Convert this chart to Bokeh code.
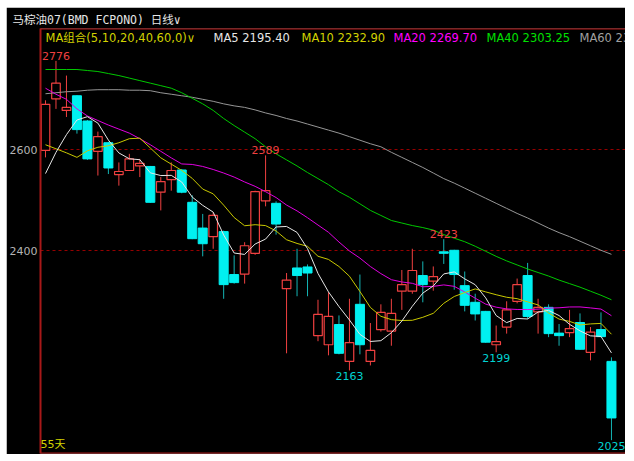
import pandas as pd
from bokeh.plotting import figure
from bokeh.models import ColumnDataSource, Range1d, FixedTicker, Label, Span, Title, Spacer
from bokeh.layouts import column, row
from bokeh.core.properties import value
from bokeh.embed import file_html
from bokeh.resources import INLINE

# ---------------- data ----------------
opens = [2599, 2701, 2678, 2707, 2657, 2597, 2614, 2551, 2559, 2568,
         2567, 2516, 2541, 2560, 2496, 2445, 2428, 2438, 2353, 2354,
         2395, 2499, 2494, 2325, 2366, 2368, 2232, 2214, 2254, 2181,
         2294, 2181, 2244, 2241, 2320, 2320, 2351, 2340, 2398, 2401,
         2331, 2298, 2280, 2214, 2249, 2300, 2351, 2279, 2288, 2237,
         2238, 2258, 2199, 2244, 2181]
highs = [2698, 2776, 2747, 2708, 2659, 2636, 2616, 2575, 2592, 2582,
         2568, 2546, 2575, 2562, 2510, 2473, 2476, 2440, 2391, 2417,
         2519, 2589, 2498, 2356, 2404, 2373, 2303, 2318, 2272, 2305,
         2353, 2257, 2294, 2305, 2362, 2404, 2379, 2369, 2423, 2402,
         2359, 2315, 2281, 2252, 2300, 2345, 2376, 2305, 2294, 2255,
         2283, 2276, 2249, 2278, 2189]
lows = [2585, 2681, 2665, 2632, 2580, 2549, 2552, 2529, 2558, 2546,
        2495, 2480, 2519, 2514, 2423, 2389, 2404, 2305, 2335, 2335,
        2392, 2488, 2432, 2197, 2310, 2310, 2221, 2193, 2195, 2163,
        2195, 2173, 2240, 2212, 2283, 2315, 2298, 2321, 2374, 2323,
        2280, 2262, 2218, 2199, 2236, 2296, 2265, 2236, 2229, 2212,
        2229, 2204, 2183, 2229, 2025]
closes = [2690, 2732, 2684, 2640, 2582, 2626, 2564, 2557, 2582, 2573,
          2496, 2537, 2559, 2516, 2424, 2414, 2470, 2333, 2337, 2410,
          2517, 2519, 2453, 2342, 2351, 2356, 2274, 2270, 2197, 2218,
          2214, 2203, 2278, 2276, 2333, 2361, 2333, 2349, 2395, 2353,
          2292, 2275, 2219, 2220, 2283, 2333, 2270, 2288, 2236, 2232,
          2246, 2205, 2239, 2230, 2069]

# moving-average values before enough visible history exists
ma5_head = [2553, 2595, 2630, 2659]
ma10_head = [2610, 2602, 2594, 2585, 2598, 2605, 2608, 2614, 2622]
ma20_head = [2722, 2710, 2700, 2681, 2667, 2658, 2649, 2641, 2633, 2622,
             2610, 2597, 2584, 2572, 2571, 2567, 2561, 2554, 2546]
ma40 = [2759, 2759, 2759, 2759, 2757, 2755, 2751, 2747, 2742, 2737,
        2732, 2727, 2722, 2713, 2702, 2691, 2678, 2662, 2648, 2635,
        2622, 2606, 2592, 2580, 2568, 2555, 2543, 2531, 2517, 2506,
        2493, 2480, 2470, 2460, 2455, 2450, 2446, 2441, 2432, 2425,
        2418, 2409, 2399, 2389, 2380, 2372, 2364, 2357, 2350, 2342,
        2335, 2328, 2320, 2312, 2303]
ma60 = [2711, 2713, 2715, 2716, 2718, 2719, 2719, 2719, 2718, 2718,
        2717, 2713, 2710, 2707, 2704, 2700, 2696, 2691, 2687, 2684,
        2679, 2673, 2668, 2662, 2657, 2651, 2645, 2639, 2633, 2626,
        2619, 2612, 2606, 2595, 2585, 2575, 2565, 2554, 2543, 2534,
        2524, 2514, 2504, 2494, 2484, 2474, 2465, 2455, 2445, 2436,
        2428, 2419, 2410, 2401, 2393]

y_ticks = [2400, 2600]
mark_high_idx = [1, 21, 38]
mark_low_idx = [29, 43, 54]

title_text = "马棕油07(BMD FCPONO)   日线∨"
ma_group_text = "MA组合(5,10,20,40,60,0)∨"
ma_labels = ["MA5 2195.40", "MA10 2232.90", "MA20 2269.70", "MA40 2303.25", "MA60 2393.10"]
days_text = "55天"

# ---------------- styles ----------------
UP = "#f04040"
DN = "#00f0f0"
DN_WICK = "#14b4b4"
C5, C10, C20, C40, C60 = "#e6e6e6", "#c8c800", "#e000e0", "#00c800", "#969696"
T10, T20, T40, T60 = "#d2d200", "#ff00ff", "#00e000", "#a0a0a0"
FONT = "DejaVu Sans"
FONT_CJK = "DejaVu Sans, Noto Sans CJK SC"
FRAME_H = 425
Y0, Y1 = 1998.6, 2840.2

n = len(closes)
idx = list(range(n))
s = pd.Series(closes, dtype=float)
ma5 = s.rolling(5).mean().tolist()
ma10 = s.rolling(10).mean().tolist()
ma20 = s.rolling(20).mean().tolist()
ma5[:len(ma5_head)] = ma5_head
ma10[:len(ma10_head)] = ma10_head
ma20[:len(ma20_head)] = ma20_head

up = [c >= o for o, c in zip(opens, closes)]
src = ColumnDataSource(dict(
    i=idx, h=highs, l=lows,
    wick=[UP if u else DN_WICK for u in up],
))
up_src = ColumnDataSource(dict(
    i=[i for i in idx if up[i]],
    top=[max(opens[i], closes[i]) for i in idx if up[i]],
    bot=[min(opens[i], closes[i]) for i in idx if up[i]],
))
dn_src = ColumnDataSource(dict(
    i=[i for i in idx if not up[i]],
    top=[max(opens[i], closes[i]) for i in idx if not up[i]],
    bot=[min(opens[i], closes[i]) for i in idx if not up[i]],
))

p = figure(frame_width=585, frame_height=FRAME_H,
           x_range=Range1d(-0.477, 55.34), y_range=Range1d(Y0, Y1),
           output_backend="svg", toolbar_location=None, x_axis_location=None,
           min_border_left=33, min_border_right=0, min_border_top=21, min_border_bottom=1,
           background_fill_color="black", border_fill_color="black", outline_line_color=None)
p.title = Title(text=title_text, text_color="#e6e6e6",
                text_font="DejaVu Sans Mono, Noto Sans CJK SC", text_font_size="11.5px",
                text_font_style="normal", align="left", offset=-28, standoff=3)
p.xgrid.visible = False
p.ygrid.ticker = FixedTicker(ticks=y_ticks)
p.ygrid.grid_line_color = "#960000"
p.ygrid.grid_line_dash = "3 3"
p.ygrid.grid_line_width = 1
ax = p.yaxis[0]
ax.ticker = FixedTicker(ticks=y_ticks)
ax.axis_line_color = "#a81818"
ax.axis_line_width = 2
ax.major_tick_line_color = None
ax.minor_tick_line_color = None
ax.major_tick_out = 0
ax.major_tick_in = 0
ax.major_label_standoff = 3
ax.major_label_text_color = "#b4b4b4"
ax.major_label_text_font = FONT
ax.major_label_text_font_size = "11px"

p.add_layout(Span(location=Y0, dimension="width", line_color="#a81818", line_width=2))
p.add_layout(Span(location=Y1, dimension="width", line_color="#b41414", line_width=2))

p.segment(x0="i", y0="l", x1="i", y1="h", line_color="wick", line_width=1, source=src)
p.vbar(x="i", width=0.82, top="top", bottom="bot", fill_color="black",
       line_color=UP, line_width=1.2, source=up_src)
p.vbar(x="i", width=0.86, top="top", bottom="bot", fill_color=DN,
       line_color=DN, line_width=1, source=dn_src)

for vals, col in [(ma60, C60), (ma40, C40), (ma20, C20), (ma10, C10), (ma5, C5)]:
    p.line(idx, vals, line_color=col, line_width=1)

p.text(x=mark_high_idx, y=[highs[i] for i in mark_high_idx],
       text=[str(highs[i]) for i in mark_high_idx],
       text_color=UP, text_font=value(FONT), text_font_size="11px",
       text_align="center", text_baseline="bottom", y_offset=-1)
p.text(x=mark_low_idx, y=[lows[i] for i in mark_low_idx],
       text=[str(lows[i]) for i in mark_low_idx],
       text_color="#00d2d2", text_font=value(FONT), text_font_size="11px",
       text_align="center", text_baseline="top", y_offset=2)

MY = FRAME_H - 9.5
p.add_layout(Label(x=5, y=MY, x_units="screen", y_units="screen", text=ma_group_text,
                   text_color=T10, text_font=FONT_CJK, text_font_size="11.5px",
                   text_baseline="middle"))
for xs, txt, col in zip([173, 261, 353, 446, 539], ma_labels, [C5, T10, T20, T40, T60]):
    p.add_layout(Label(x=xs, y=MY, x_units="screen", y_units="screen", text=txt,
                       text_color=col, text_font=FONT, text_font_size="11.5px",
                       text_baseline="middle"))
p.add_layout(Label(x=0, y=9.5, x_units="screen", y_units="screen", text=days_text,
                   text_color=T10, text_font=FONT_CJK, text_font_size="11px",
                   text_baseline="middle"))

page = column(Spacer(height=7), row(Spacer(width=6), p))
open("out.html", "w").write(file_html(page, INLINE))
